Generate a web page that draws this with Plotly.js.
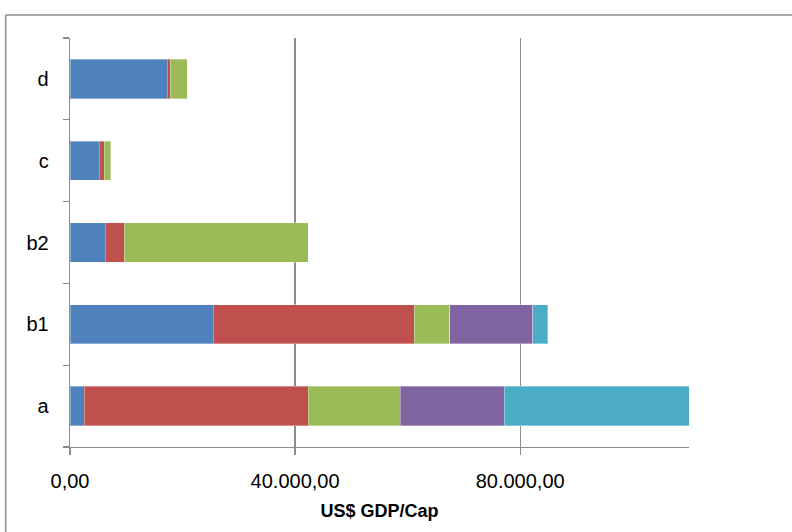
<!DOCTYPE html>
<html>
<head>
<meta charset="utf-8">
<script src="https://cdn.plot.ly/plotly-3.0.1.min.js"></script>
<style>
  html, body { margin: 0; padding: 0; background: #ffffff; }
  #chart { width: 792px; height: 532px; }
</style>
</head>
<body>
<div id="chart"></div>
<script>
// Categories (bottom to top)
const categories = ["a", "b1", "b2", "c", "d"];

// Stacked series values (US$ GDP/Cap)
const series1 = [2540, 25480, 6280, 5210, 17300];   // blue
const series2 = [39830, 35680, 3320, 840, 480];     // red
const series3 = [16300, 6280, 32770, 1180, 3020];   // green
const series4 = [18490, 14760, null, null, null];   // purple
const series5 = [33430, 2660, null, null, null];    // cyan

const seriesNames = ["Series1", "Series2", "Series3", "Series4", "Series5"];
const seriesColors = ["#4F81BD", "#C0504D", "#9BBB59", "#8064A2", "#4BACC6"];
const allSeries = [series1, series2, series3, series4, series5];

const xTickVals = [0, 40000, 80000];
const xAxisTitle = "US$ GDP/Cap";

const traces = allSeries.map((vals, i) => ({
  type: "bar",
  orientation: "h",
  y: categories,
  x: vals,
  name: seriesNames[i],
  marker: { color: seriesColors[i], line: { color: "rgba(255,255,255,0.35)", width: 1 } },
  hoverinfo: "x+y+name"
}));

const fontFamily = "'Liberation Sans', Arial, sans-serif";

const layout = {
  width: 792,
  height: 532,
  barmode: "stack",
  bargap: 0.52,
  showlegend: false,
  separators: ",.",
  paper_bgcolor: "#ffffff",
  plot_bgcolor: "#ffffff",
  font: { family: fontFamily, size: 20, color: "#000000" },
  margin: { l: 70, r: 103, t: 38, b: 85, pad: 0 },
  xaxis: {
    range: [0, 110000],
    tickvals: xTickVals,
    tickformat: ",.2f",
    showgrid: true,
    gridcolor: "#8c8c8c",
    gridwidth: 1.3,
    zeroline: false,
    showline: true,
    linecolor: "#8c8c8c",
    linewidth: 1.3,
    ticks: "outside",
    ticklen: 7,
    tickwidth: 1.3,
    tickcolor: "#8c8c8c",
    ticklabelstandoff: 9,
    tickfont: { family: fontFamily, size: 20, color: "#000000" },
    title: {
      text: xAxisTitle,
      font: { family: fontFamily, size: 18, color: "#000000", weight: "bold" },
      standoff: 13
    },
    fixedrange: true
  },
  yaxis: {
    type: "category",
    categoryorder: "array",
    categoryarray: categories,
    showgrid: false,
    zeroline: false,
    showline: true,
    linecolor: "#8c8c8c",
    linewidth: 1.3,
    ticks: "outside",
    tickson: "boundaries",
    ticklen: 6,
    tickwidth: 1.3,
    tickcolor: "#8c8c8c",
    ticklabelstandoff: 16,
    tickfont: { family: fontFamily, size: 20, color: "#000000" },
    fixedrange: true
  },
  shapes: [
    {
      type: "line", xref: "paper", yref: "paper",
      x0: -0.1039, x1: 1.2, y0: 1.0563, y1: 1.0563,
      line: { color: "#8c8c8c", width: 1.5 }
    },
    {
      type: "line", xref: "paper", yref: "paper",
      x0: -0.1039, x1: -0.1039, y0: 1.0563, y1: -0.3,
      line: { color: "#8c8c8c", width: 1.5 }
    }
  ]
};

Plotly.newPlot("chart", traces, layout, { displayModeBar: false, staticPlot: true });
</script>
</body>
</html>
